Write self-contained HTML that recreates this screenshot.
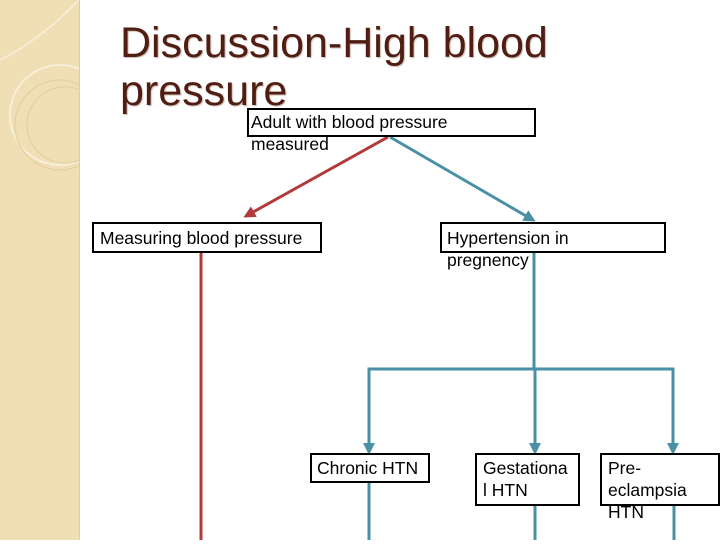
<!DOCTYPE html>
<html><head><style>
body{margin:0;width:720px;height:540px;overflow:hidden;background:#fff;position:relative;font-family:"Liberation Sans",sans-serif}
.side{position:absolute;left:0;top:0;width:79px;height:540px;background:#f0dfb4;border-right:1px solid #e2cd9a}
.t{position:absolute;left:120px;font-size:43px;color:#4f1d12;text-shadow:1px 1px 1px #c9b9b0;line-height:1}
.b{position:absolute;border:2px solid #000;background:#fff;box-sizing:border-box}
.x{position:absolute;font-size:17.5px;color:#000;line-height:22px;white-space:nowrap}
</style></head><body>
<div class="side">
<svg width="79" height="540"><circle cx="60" cy="115" r="50" fill="none" stroke="#f8efd8" stroke-width="2"/><circle cx="60" cy="125" r="45" fill="none" stroke="#e6d3a4" stroke-width="1.5"/><circle cx="65" cy="125" r="38" fill="none" stroke="#e6d3a4" stroke-width="1.5"/><path d="M0 60 Q40 40 79 0" fill="none" stroke="#f8efd8" stroke-width="1.5"/></svg>
</div>
<div class="t" style="top:22px">Discussion-High blood</div>
<div class="t" style="top:70px">pressure</div>
<svg style="position:absolute;left:0;top:0" width="720" height="540">
<defs>
<marker id="r" markerWidth="12" markerHeight="12" refX="9" refY="6" orient="auto" markerUnits="userSpaceOnUse"><path d="M0,0 L12,6 L0,12 z" fill="#b23a3a"/></marker>
<marker id="bl" markerWidth="12" markerHeight="12" refX="9" refY="6" orient="auto" markerUnits="userSpaceOnUse"><path d="M0,0 L12,6 L0,12 z" fill="#4a90a4"/></marker>
</defs>
<g stroke-width="3" fill="none">
<line x1="388" y1="137" x2="246" y2="216" stroke="#b23a3a" marker-end="url(#r)"/>
<line x1="201" y1="252" x2="201" y2="540" stroke="#b23a3a"/>
<g stroke="#4a90a4">
<line x1="390" y1="137" x2="533" y2="220" marker-end="url(#bl)"/>
<line x1="534" y1="252" x2="534" y2="369"/>
<polyline points="369,452 369,369 673,369 673,452" marker-end="url(#bl)"/>
<line x1="369" y1="380" x2="369" y2="452" marker-end="url(#bl)"/>
<line x1="535" y1="369" x2="535" y2="452" marker-end="url(#bl)"/>
<line x1="369" y1="482" x2="369" y2="540"/>
<line x1="535" y1="505" x2="535" y2="540"/>
<line x1="674" y1="505" x2="674" y2="540"/>
</g></g></svg>
<div class="b" style="left:247px;top:108px;width:289px;height:29px"></div>
<div class="x" style="left:251px;top:111px">Adult with blood pressure<br>measured</div>
<div class="b" style="left:92px;top:222px;width:230px;height:31px"></div>
<div class="x" style="left:100px;top:227px">Measuring blood pressure</div>
<div class="b" style="left:440px;top:222px;width:226px;height:31px"></div>
<div class="x" style="left:447px;top:227px">Hypertension in<br>pregnency</div>
<div class="b" style="left:310px;top:453px;width:120px;height:30px"></div>
<div class="x" style="left:317px;top:457px">Chronic HTN</div>
<div class="b" style="left:475px;top:453px;width:105px;height:53px"></div>
<div class="x" style="left:483px;top:457px">Gestationa<br>l HTN</div>
<div class="b" style="left:600px;top:453px;width:120px;height:53px"></div>
<div class="x" style="left:608px;top:457px">Pre-<br>eclampsia<br>HTN</div>
</body></html>
